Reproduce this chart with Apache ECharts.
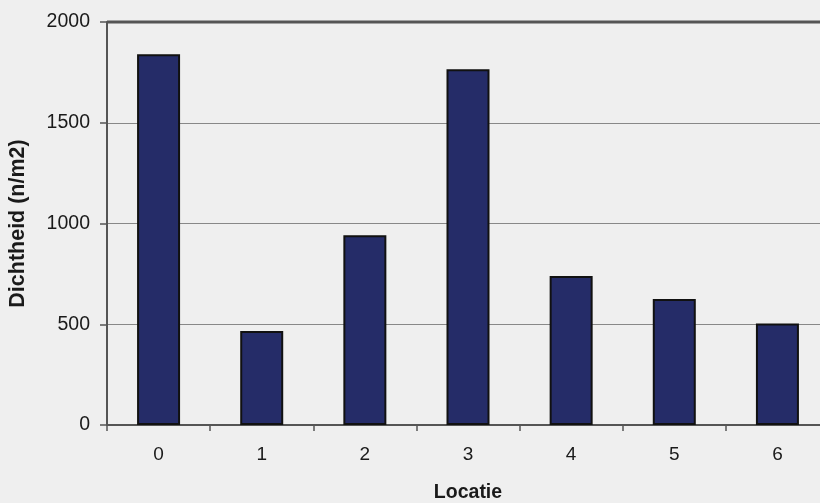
<!DOCTYPE html>
<html><head><meta charset="utf-8">
<script src="https://cdn.jsdelivr.net/npm/echarts@6/dist/echarts.min.js"></script>
<style>html,body{margin:0;padding:0;background:#efefef;}#c{width:820px;height:503px;}</style>
</head><body><div id="c"></div>
<script>
const categories = ['0','1','2','3','4','5','6'];
const values = [1840, 467, 942, 1766, 740, 625, 504];
const yTicks = [0, 500, 1000, 1500, 2000];

const chart = echarts.init(document.getElementById('c'));
chart.setOption({
  backgroundColor: '#efefef',
  animation: false,
  grid: { left: 107, top: 22, width: 722, height: 403, containLabel: false, outerBoundsMode: 'none' },
  xAxis: {
    type: 'category', data: categories,
    name: 'Locatie', nameLocation: 'middle', nameGap: 58,
    nameTextStyle: { fontFamily: 'Liberation Sans', fontWeight: 'bold', fontSize: 19.5, color: '#1a1a1a' },
    axisLine: { lineStyle: { color: '#555', width: 2 } },
    axisTick: { show: true, length: 6, lineStyle: { color: '#555', width: 1.5 } },
    axisLabel: { fontFamily: 'Liberation Sans', fontSize: 19, color: '#1a1a1a', margin: 20 }
  },
  yAxis: {
    type: 'value', min: yTicks[0], max: yTicks[yTicks.length-1], interval: 500,
    name: 'Dichtheid (n/m2)', nameLocation: 'middle', nameGap: 78, nameRotate: 90,
    nameTextStyle: { fontFamily: 'Liberation Sans', fontWeight: 'bold', fontSize: 21.5, color: '#1a1a1a' },
    axisLine: { show: true, lineStyle: { color: '#555', width: 2 } },
    axisTick: { show: true, length: 7, lineStyle: { color: '#555', width: 1.5 } },
    axisLabel: { fontFamily: 'Liberation Sans', fontSize: 19.5, color: '#1a1a1a', margin: 17, formatter: v => String(v) },
    splitLine: { lineStyle: { color: '#888', width: 1.2 } }
  },
  series: [{
    type: 'bar', data: values, barWidth: 43,
    itemStyle: { color: '#252c68', borderColor: '#111', borderWidth: 2 }
  }],
  graphic: [{
    type: 'line', shape: { x1: 107, y1: 22, x2: 820, y2: 22 },
    style: { stroke: '#555', lineWidth: 3 }, z: 10
  }]
});
</script></body></html>
